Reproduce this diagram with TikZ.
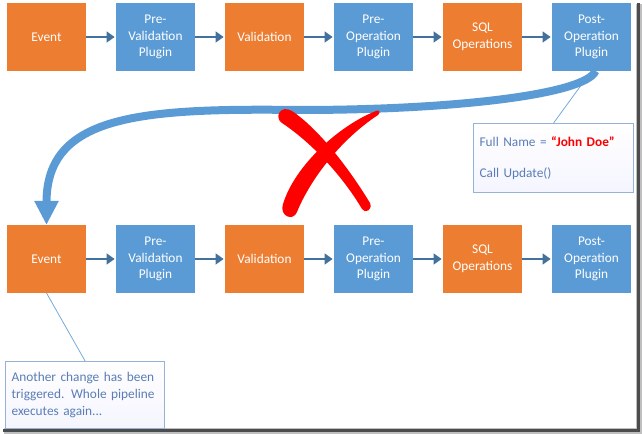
\documentclass[tikz,border=0pt]{standalone}
\usepackage{fontspec}
\setmainfont{Carlito}
\usetikzlibrary{arrows.meta,positioning,calc}

\definecolor{stageorange}{HTML}{ED7D31}
\definecolor{stageblue}{HTML}{5B9BD5}
\definecolor{flowblue}{HTML}{41719C}
\definecolor{notetext}{HTML}{5A7DB5}
\definecolor{noteborder}{HTML}{95B3D7}
\definecolor{crossred}{HTML}{FF0000}

\begin{document}
\begin{tikzpicture}[
  x=0.75pt, y=-0.75pt,
  font=\fontsize{10}{12.5}\selectfont,
  stage/.style={minimum width=59.25pt, minimum height=51pt, inner sep=0pt, outer sep=0pt, align=center, text=white},
  orangestage/.style={stage, fill=stageorange},
  bluestage/.style={stage, fill=stageblue},
  flow/.style={draw=flowblue, line width=2pt, -{Triangle[length=6pt,width=8pt]}, shorten >=1pt},
  note/.style={draw=noteborder, line width=0.9pt, top color=white, bottom color=blue!4, text=notetext, align=left, inner sep=4.5pt, anchor=north west},
  pointer/.style={draw=stageblue!85, line width=0.6pt},
  loopback/.style={draw=stageblue, line width=6pt, -{Triangle[length=18pt,width=17pt]}},
]
\useasboundingbox (0,0) rectangle (642,434);

% frame shadow of the screenshot
\fill[black!25] (636,4) rectangle (642,434);
\fill[black!25] (4,428) rectangle (642,434);
\fill[black!70] (637,3) rectangle (640,432);
\fill[black!70] (3,429) rectangle (640,432);

% First pass through the pipeline
\node[orangestage]                  (ev1) at (46.5,37) {Event};
\node[bluestage, right=22.5pt of ev1]   (pv1) {Pre-\\Validation\\Plugin};
\node[orangestage, right=22.5pt of pv1] (va1) {Validation};
\node[bluestage, right=22.5pt of va1]   (po1) {Pre-\\Operation\\Plugin};
\node[orangestage, right=22.5pt of po1] (sq1) {SQL\\Operations};
\node[bluestage, right=22.5pt of sq1]   (pp1) {Post-\\Operation\\Plugin};

% Second pass, triggered again
\node[orangestage, below=115.5pt of ev1] (ev2) {Event};
\node[bluestage, right=22.5pt of ev2]   (pv2) {Pre-\\Validation\\Plugin};
\node[orangestage, right=22.5pt of pv2] (va2) {Validation};
\node[bluestage, right=22.5pt of va2]   (po2) {Pre-\\Operation\\Plugin};
\node[orangestage, right=22.5pt of po2] (sq2) {SQL\\Operations};
\node[bluestage, right=22.5pt of sq2]   (pp2) {Post-\\Operation\\Plugin};

\foreach \a/\b in {ev1/pv1, pv1/va1, va1/po1, po1/sq1, sq1/pp1,
                   ev2/pv2, pv2/va2, va2/po2, po2/sq2, sq2/pp2}
  \draw[flow] (\a) -- (\b);

% Callouts
\node[note, minimum width=120pt, minimum height=51.75pt, text width=111pt] (note1) at (473,123)
  {Full Name = {\color{crossred}\bfseries “John Doe”}\\[11pt]Call Update()};
\node[note, minimum width=119.25pt, minimum height=50.25pt, text width=110.25pt] (note2) at (5,361)
  {Another change has been\\triggered. Whole pipeline\\executes again...};
\draw[pointer] (pp1.south) -- (note1.north);
\draw[pointer] (ev2.south) -- (note2.north);

% Loop back to the start
\draw[loopback] ([xshift=3pt]pp1.south) .. controls (585,95) and (450,110) .. (300,110)
  .. controls (140,108) and (46.5,115) .. (ev2.north);

% Red cross over the loop
\fill[crossred] (292,111) .. controls (320,130) and (350,170) .. (370,203)
  .. controls (373,210) and (365,214) .. (362,209)
  .. controls (345,180) and (315,145) .. (282,123)
  .. controls (274,118) and (280,104) .. (292,111) -- cycle;
\fill[crossred] (376,111) .. controls (340,125) and (295,165) .. (283,204)
  .. controls (279,216) and (293,222) .. (297,212)
  .. controls (310,180) and (340,140) .. (378,115)
  .. controls (381,113) and (379,109) .. (376,111) -- cycle;

\end{tikzpicture}
\end{document}
